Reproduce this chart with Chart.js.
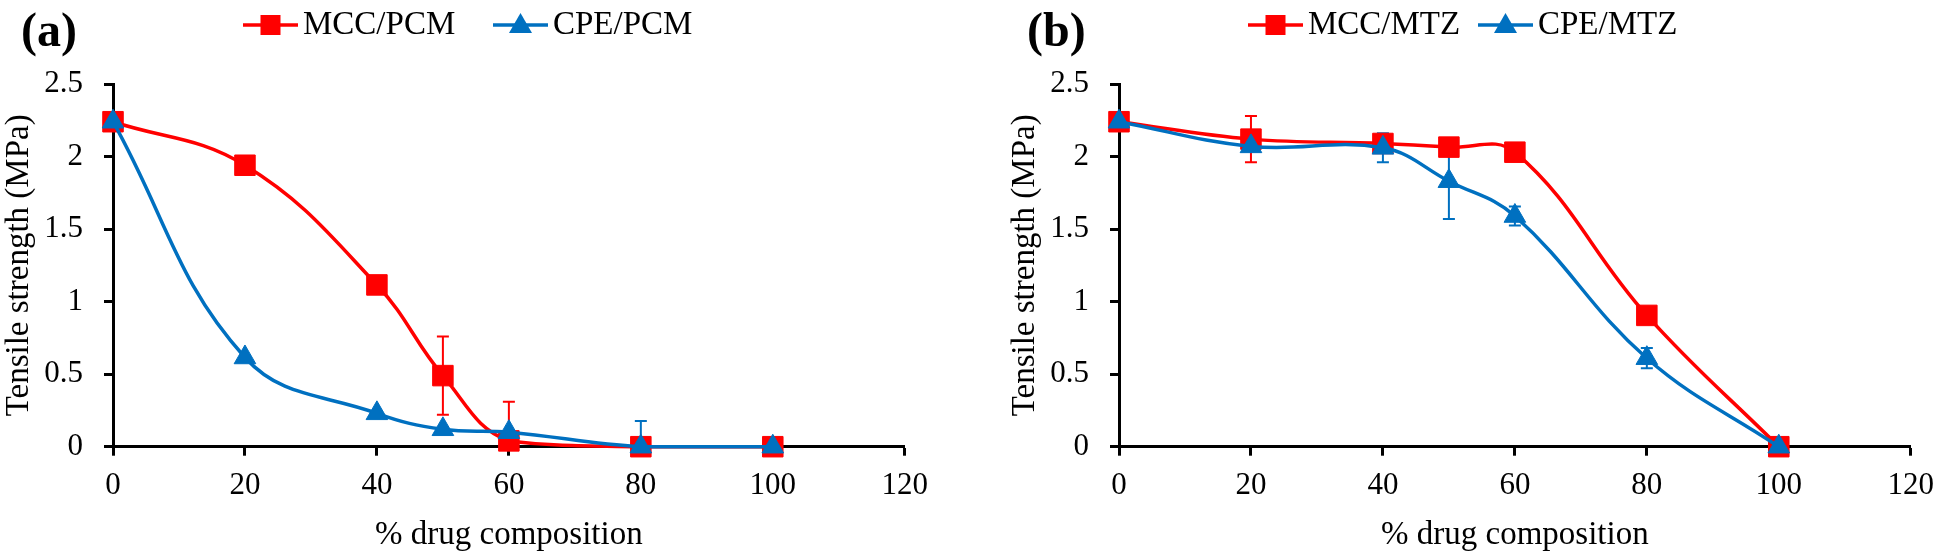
<!DOCTYPE html>
<html><head><meta charset="utf-8">
<script src="https://cdn.jsdelivr.net/npm/chart.js@4.4.1/dist/chart.umd.min.js"></script>
<style>
html,body{margin:0;padding:0;background:#fff;width:1946px;height:556px;overflow:hidden}
.p{position:absolute;top:0;width:940px;height:556px}
</style></head><body>
<div class="p" style="left:0"><canvas id="ca" width="940" height="556"></canvas></div>
<div class="p" style="left:1006px"><canvas id="cb" width="940" height="556"></canvas></div>
<script>
// ---- data ----
const drugPct = [0, 20, 40, 50, 60, 80, 100];
const mccPcm = [2.24, 1.94, 1.115, 0.49, 0.04, 0, 0];
const mccPcmErr = [0, 0, 0, 0.27, 0.27, 0, 0];
const cpePcm = [2.24, 0.615, 0.23, 0.12, 0.10, 0, 0];
const cpePcmErr = [0, 0, 0, 0, 0, 0.177, 0];
const mccMtz = [2.24, 2.12, 2.09, 2.065, 2.03, 0.905, 0];
const mccMtzErr = [0, 0.16, 0, 0, 0, 0, 0];
const cpeMtz = [2.24, 2.07, 2.06, 1.83, 1.59, 0.61, 0];
const cpeMtzErr = [0, 0, 0.1, 0.26, 0.065, 0.07, 0];
const xTicks = [0, 20, 40, 60, 80, 100, 120];
const yTicks = [0, 0.5, 1, 1.5, 2, 2.5];
const xTitle = '% drug composition';
const yTitle = 'Tensile strength (MPa)';

const RED = '#FF0000', BLUE = '#0070C0';
const FAM = '"Liberation Serif", "Times New Roman", serif';

const errorBars = {
  id: 'errorBars',
  beforeDatasetsDraw(chart) {
    const ctx = chart.ctx, xs = chart.scales.x, ys = chart.scales.y, a = chart.chartArea;
    chart.data.datasets.forEach(ds => {
      if (!ds.errors) return;
      ctx.save();
      ctx.strokeStyle = ds.borderColor; ctx.lineWidth = 2;
      ds.data.forEach((p, i) => {
        const e = ds.errors[i]; if (!e) return;
        const px = xs.getPixelForValue(p.x);
        let top = ys.getPixelForValue(p.y + e), bot = ys.getPixelForValue(p.y - e);
        const ct = top >= a.top && top <= a.bottom, cb = bot >= a.top && bot <= a.bottom;
        top = Math.max(a.top, Math.min(a.bottom, top)); bot = Math.max(a.top, Math.min(a.bottom, bot));
        ctx.beginPath(); ctx.moveTo(px, top); ctx.lineTo(px, bot);
        if (ct) { ctx.moveTo(px - 6, top); ctx.lineTo(px + 6, top); }
        if (cb) { ctx.moveTo(px - 6, bot); ctx.lineTo(px + 6, bot); }
        ctx.stroke();
      });
      ctx.restore();
    });
  }
};

const deco = {
  id: 'deco',
  afterDraw(chart, args, opts) {
    const ctx = chart.ctx;
    ctx.save();
    ctx.fillStyle = '#000';
    ctx.font = 'bold 48px ' + FAM;
    ctx.textBaseline = 'middle'; ctx.textAlign = 'left';
    ctx.fillText(opts.panel, 21, 34);
    const cy = 25;
    chart.data.datasets.forEach((ds, i) => {
      const x0 = opts.legendX[i];
      ctx.strokeStyle = ds.borderColor; ctx.lineWidth = 3.5;
      ctx.beginPath(); ctx.moveTo(x0, cy); ctx.lineTo(x0 + 55, cy); ctx.stroke();
      const cx = x0 + 27.5;
      ctx.fillStyle = ds.borderColor;
      if (ds.pointStyle === 'rect') {
        ctx.fillRect(cx - 10, cy - 10, 20, 20);
      } else {
        ctx.beginPath(); ctx.moveTo(cx, cy - 12); ctx.lineTo(cx + 11.5, cy + 8); ctx.lineTo(cx - 11.5, cy + 8); ctx.closePath(); ctx.fill();
      }
      ctx.fillStyle = '#000';
      ctx.font = '33px ' + FAM;
      ctx.fillText(ds.label, x0 + 60, cy);
    });
    ctx.restore();
  }
};

function series(label, values, errors, color, style, order) {
  const r = style === 'rect' ? 14.5 : 12.5;
  return {
    label, data: drugPct.map((x, i) => ({ x, y: values[i] })), errors,
    borderColor: color, backgroundColor: color,
    pointBackgroundColor: color, pointBorderColor: color,
    pointStyle: style, pointRadius: r, pointHoverRadius: r, pointBorderWidth: 1,
    borderWidth: 3.5, tension: 0.4, fill: false, clip: false, order
  };
}

function makeChart(id, panel, legendX, sets) {
  return new Chart(document.getElementById(id), {
    type: 'line',
    data: { datasets: sets },
    plugins: [errorBars, deco],
    options: {
      responsive: false, animation: false, events: [],
      layout: { padding: { left: 0, right: 29, top: 84, bottom: 0 } },
      plugins: { legend: { display: false }, tooltip: { enabled: false },
        deco: { panel, legendX } },
      scales: {
        x: {
          type: 'linear', position: 'bottom', min: 0, max: 120,
          afterBuildTicks: s => { s.ticks = xTicks.map(v => ({ value: v })); },
          afterFit: s => { s.height = 109.3; },
          ticks: { color: '#000', font: { family: FAM, size: 31 }, padding: 12, maxRotation: 0, autoSkip: false,
                   callback: v => String(v) },
          grid: { drawOnChartArea: false, drawTicks: true, tickLength: 9, tickWidth: 3, tickColor: '#000' },
          border: { display: true, color: '#000', width: 3 },
          title: { display: true, text: xTitle, color: '#000', font: { family: FAM, size: 33 }, padding: { top: 0, bottom: 1 } }
        },
        y: {
          type: 'linear', position: 'left', min: 0, max: 2.5,
          afterBuildTicks: s => { s.ticks = yTicks.map(v => ({ value: v })); },
          afterFit: s => { s.width = 113; },
          ticks: { color: '#000', font: { family: FAM, size: 31 }, padding: 21, callback: v => String(v) },
          grid: { drawOnChartArea: false, drawTicks: true, tickLength: 9, tickWidth: 3, tickColor: '#000' },
          border: { display: true, color: '#000', width: 3 },
          title: { display: true, text: yTitle, color: '#000', font: { family: FAM, size: 33 }, padding: { top: 0, bottom: 0 } }
        }
      }
    }
  });
}

makeChart('ca', '(a)', [243, 493], [
  series('MCC/PCM', mccPcm, mccPcmErr, RED, 'rect', 1),
  series('CPE/PCM', cpePcm, cpePcmErr, BLUE, 'triangle', 0)
]);
makeChart('cb', '(b)', [242, 472], [
  series('MCC/MTZ', mccMtz, mccMtzErr, RED, 'rect', 1),
  series('CPE/MTZ', cpeMtz, cpeMtzErr, BLUE, 'triangle', 0)
]);
</script>
</body></html>
